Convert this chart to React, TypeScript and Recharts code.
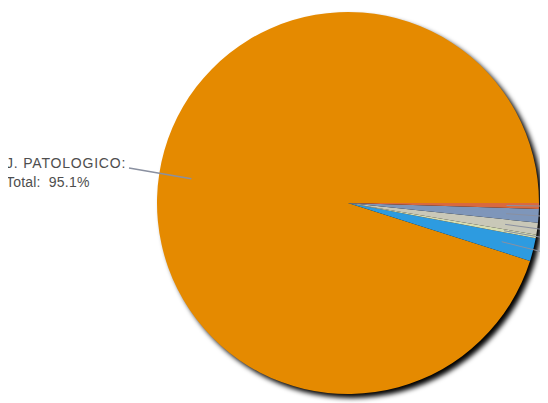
import { PieChart, Pie, Cell } from "recharts";

const categories = ["J. PATOLOGICO", "Cat B", "Cat C", "Cat D", "Cat E", "Cat F"];
const values = [95.1, 1.95, 0.3, 1.0, 1.15, 0.5];
const colors = ["#E58A00", "#2D9BE0", "#D6DDB0", "#C9C8B8", "#7E96BA", "#D8693F"];
const shadowData = [{ name: "shadow", value: 100 }];

const data = categories.map((name, i) => ({ name, value: values[i] }));

const RADIAN = Math.PI / 180;
const CX = 348;
const CY = 203;
const R = 191;

function renderLabel(props: any) {
  const { cx, cy, midAngle, outerRadius, index } = props;
  const cos = Math.cos(-midAngle * RADIAN);
  const sin = Math.sin(-midAngle * RADIAN);
  const x1 = cx + outerRadius * 0.83 * cos;
  const y1 = cy + outerRadius * 0.83 * sin;
  if (index === 0) {
    return (
      <g>
        <line x1={x1} y1={y1} x2={129} y2={168} stroke="#8a90a0" strokeWidth={1.5} />
        <text
          x={6}
          y={168}
          fill="#4e4e4e"
          fontSize={14}
          fontFamily="Liberation Sans, Arial, sans-serif"
        >
          <tspan x={6} y={168} letterSpacing={0.8}>J. PATOLOGICO:</tspan>
          <tspan x={6} y={187} letterSpacing={0.2}>{`Total:\u00a0 ${values[0]}%`}</tspan>
        </text>
      </g>
    );
  }
  return (
    <line
      x1={x1}
      y1={y1}
      x2={cx + outerRadius * 1.3 * cos}
      y2={cy + outerRadius * 1.3 * sin}
      stroke="#8a90a0"
      strokeWidth={1}
    />
  );
}

export default function App() {
  return (
    <div style={{ margin: "-8px 0 0 -8px", width: 548, height: 403 }}>
      <PieChart width={548} height={403} margin={{ top: 0, right: 0, bottom: 0, left: 0 }}>
        <defs>
          <filter id="pieShadow" x="-10%" y="-10%" width="120%" height="120%">
            <feGaussianBlur stdDeviation="2.5" />
          </filter>
        </defs>

        {/* shadow behind the pie */}
        <Pie
          data={shadowData}
          dataKey="value"
          cx={CX + 4}
          cy={CY + 4}
          outerRadius={R}
          stroke="none"
          fill="#000"
          style={{ filter: "url(#pieShadow)" }}
          isAnimationActive={false}
        />

        <Pie
          data={data}
          dataKey="value"
          nameKey="name"
          cx={CX}
          cy={CY}
          outerRadius={R}
          startAngle={0}
          endAngle={360}
          stroke="none"
          label={renderLabel}
          labelLine={false}
          isAnimationActive={false}
        >
          {data.map((entry, i) => (
            <Cell key={entry.name} fill={colors[i]} />
          ))}
        </Pie>
      </PieChart>
    </div>
  );
}
